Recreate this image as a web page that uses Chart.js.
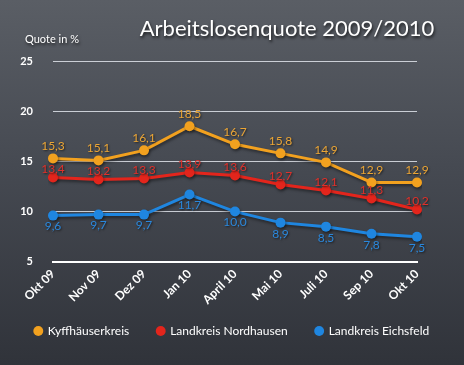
<!DOCTYPE html>
<html>
<head>
<meta charset="utf-8">
<script src="https://cdn.jsdelivr.net/npm/chart.js@4.4.1/dist/chart.umd.min.js"></script>
<style>
  html, body { margin: 0; padding: 0; }
  body {
    width: 464px; height: 365px; overflow: hidden;
    background: linear-gradient(180deg, #5a5e65 0%, #464a52 45%, #30333a 100%);
  }
  #wrap { position: relative; width: 464px; height: 365px; }
</style>
</head>
<body>
<div id="wrap"><canvas id="quoteChart" width="464" height="365"></canvas></div>
<script>
// Monate (Kategorien)
const months = ['Okt 09', 'Nov 09', 'Dez 09', 'Jan 10', 'April 10', 'Mai 10', 'Juli 10', 'Sep 10', 'Okt 10'];
// Arbeitslosenquote in % je Kreis
const kyffhaeuser = [15.3, 15.1, 16.1, 18.5, 16.7, 15.8, 14.9, 12.9, 12.9];
const nordhausen  = [13.4, 13.2, 13.3, 13.9, 13.6, 12.7, 12.1, 11.3, 10.2];
const eichsfeld   = [9.6, 9.7, 9.7, 11.7, 10.0, 8.9, 8.5, 7.8, 7.5];
const yTicks = [5, 10, 15, 20, 25];

const FONT = 'Lato, "Open Sans", sans-serif';

// Werte an die Punkte schreiben (oben / unten je nach Reihe)
const valueLabels = {
  id: 'valueLabels',
  afterDatasetsDraw(chart) {
    const ctx = chart.ctx;
    ctx.save();
    ctx.font = '12px ' + FONT;
    ctx.textAlign = 'center';
    ctx.shadowColor = 'rgba(0,0,0,0.6)';
    ctx.shadowOffsetX = 1;
    ctx.shadowOffsetY = 1;
    ctx.shadowBlur = 2;
    chart.data.datasets.forEach((ds, i) => {
      const meta = chart.getDatasetMeta(i);
      meta.data.forEach((pt, j) => {
        const txt = ds.data[j].toFixed(1).replace('.', ',');
        ctx.fillStyle = ds.labelColor;
        if (ds.labelPos === 'below') {
          ctx.textBaseline = 'top';
          ctx.fillText(txt, pt.x, pt.y + 5);
        } else {
          ctx.textBaseline = 'bottom';
          ctx.fillText(txt, pt.x, pt.y - ds.labelGap);
        }
      });
    });
    ctx.restore();
  }
};

// Titel + Achsenbeschriftung
const headings = {
  id: 'headings',
  afterDraw(chart) {
    const ctx = chart.ctx;
    ctx.save();
    ctx.fillStyle = '#ffffff';
    ctx.shadowColor = 'rgba(0,0,0,0.7)';
    ctx.shadowOffsetX = 1;
    ctx.shadowOffsetY = 2;
    ctx.shadowBlur = 3;
    ctx.textBaseline = 'alphabetic';
    ctx.textAlign = 'center';
    ctx.font = '22px ' + FONT;
    ctx.fillText('Arbeitslosenquote 2009/2010', 287, 36);
    ctx.textAlign = 'left';
    ctx.font = '11px ' + FONT;
    ctx.fillText('Quote in %', 25, 43);
    ctx.restore();
  }
};

// Legende etwas nach oben ruecken (wie im Original)
const legendShift = {
  id: 'legendShift',
  beforeDraw(chart) {
    const lg = chart.legend;
    if (lg && !lg._shifted) {
      lg.top -= 15;
      lg.bottom -= 15;
      lg._shifted = true;
    }
  }
};

// leichter Schatten unter Linien
const lineShadow = {
  id: 'lineShadow',
  beforeDatasetsDraw(chart) {
    const ctx = chart.ctx;
    ctx.save();
    ctx.shadowColor = 'rgba(0,0,0,0.45)';
    ctx.shadowOffsetX = 1;
    ctx.shadowOffsetY = 2;
    ctx.shadowBlur = 3;
  },
  afterDatasetsDraw(chart) {
    chart.ctx.restore();
  }
};

new Chart(document.getElementById('quoteChart').getContext('2d'), {
  type: 'line',
  data: {
    labels: months,
    datasets: [
      { label: 'Kyffhäuserkreis', data: kyffhaeuser, borderColor: '#f2a11f', backgroundColor: '#f2a11f',
        labelColor: '#eba535', labelPos: 'above', labelGap: 6 },
      { label: 'Landkreis Nordhausen', data: nordhausen, borderColor: '#e3251c', backgroundColor: '#e3251c',
        labelColor: '#e0302a', labelPos: 'above', labelGap: 2 },
      { label: 'Landkreis Eichsfeld', data: eichsfeld, borderColor: '#1f86e0', backgroundColor: '#1f86e0',
        labelColor: '#2a88dd', labelPos: 'below', labelGap: 0 }
    ]
  },
  options: {
    responsive: false,
    animation: false,
    layout: { padding: { left: 0, right: 0, top: 61, bottom: 3 } },
    elements: {
      line: { borderWidth: 3, tension: 0 },
      point: { radius: 5, hoverRadius: 5, borderWidth: 0 }
    },
    scales: {
      x: {
        offset: false,
        grid: { display: false, drawTicks: false },
        border: { display: true, color: '#ffffff', width: 2 },
        ticks: {
          color: '#ffffff', font: { family: FONT, size: 12, weight: 'bold' },
          maxRotation: 45, minRotation: 45, padding: 5
        }
      },
      y: {
        min: 5, max: 25,
        afterBuildTicks(axis) { axis.ticks = yTicks.map(v => ({ value: v })); },
        afterFit(axis) { axis.width = 53; },
        grid: { color: 'rgba(225,228,235,0.85)', lineWidth: 1, drawTicks: false },
        border: { display: false },
        ticks: {
          color: '#ffffff', font: { family: FONT, size: 11, weight: 'bold' }, padding: 20
        }
      },
      // leere Achse rechts, nur als Abstand
      yRight: {
        position: 'right', min: 5, max: 25,
        grid: { display: false, drawTicks: false },
        border: { display: false },
        ticks: { display: false },
        afterFit(axis) { axis.width = 47; }
      }
    },
    plugins: {
      legend: {
        position: 'bottom',
        labels: {
          color: '#ffffff', font: { family: FONT, size: 12 },
          usePointStyle: true, pointStyle: 'circle', boxWidth: 7, boxHeight: 7, padding: 28
        }
      },
      tooltip: { enabled: false }
    }
  },
  plugins: [legendShift, lineShadow, valueLabels, headings]
});
</script>
</body>
</html>
